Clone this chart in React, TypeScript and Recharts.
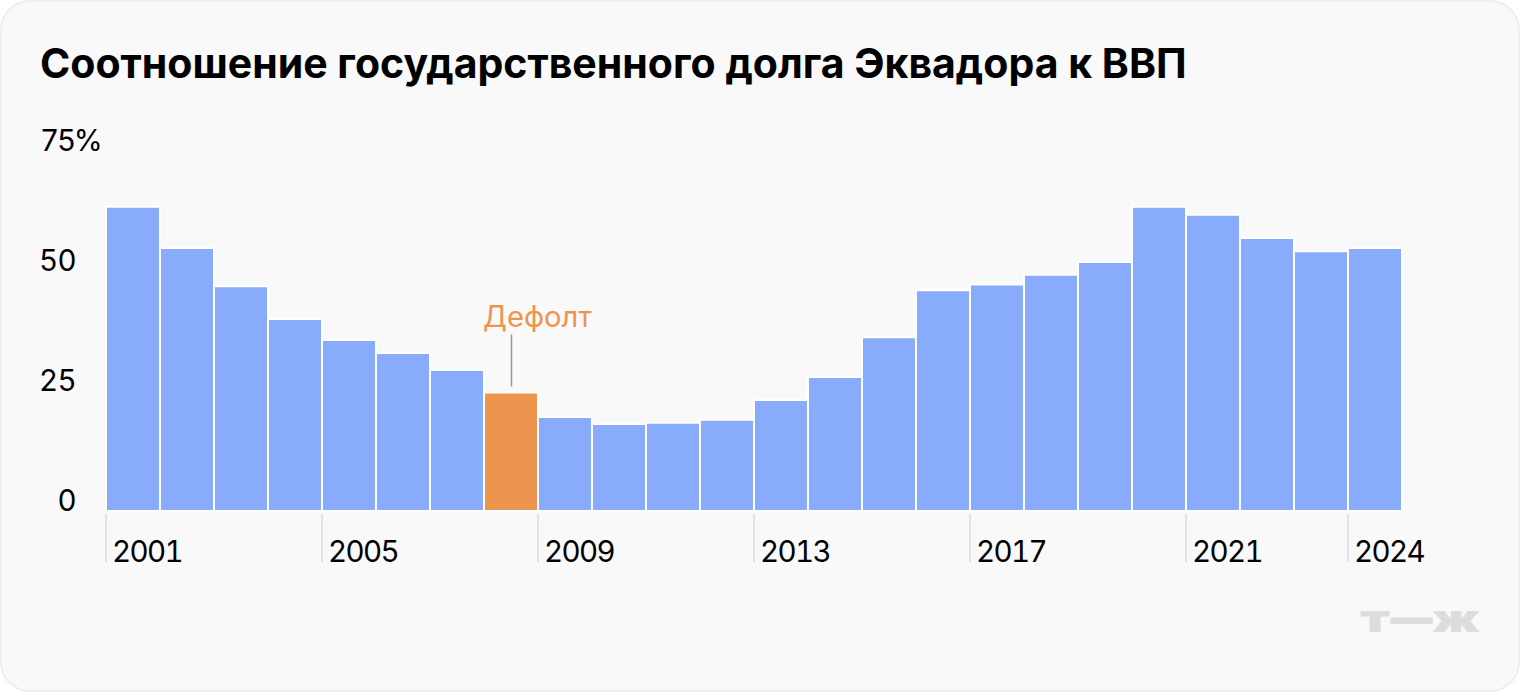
import { BarChart, Bar, Cell, XAxis, YAxis, LabelList } from 'recharts';

const years = ['2001', '2002', '2003', '2004', '2005', '2006', '2007', '2008', '2009', '2010', '2011', '2012', '2013', '2014', '2015', '2016', '2017', '2018', '2019', '2020', '2021', '2022', '2023', '2024'];
const debt = [63.4, 54.8, 46.8, 40, 35.6, 32.9, 29.4, 24.7, 19.6, 18.1, 18.4, 19, 23.1, 27.9, 36.2, 46, 47.2, 49.2, 51.9, 63.4, 61.7, 56.9, 54.1, 54.8];
const yearTicks = ['2001', '2005', '2009', '2013', '2017', '2021', '2024'];
const valueTicks = [0, 25, 50, 75];
const defaultYear = '2008';

const data = years.map((year, i) => ({ year, debt: debt[i] }));

const FONT = 'Inter, sans-serif';
const BLUE = '#89abfb';
const ORANGE = '#ed944f';
const LOGO = '#dddddd';

function YearTick({ x, y, payload }: any) {
  const left = x - 27;
  return (
    <g>
      <line x1={left} x2={left} y1={y - 5} y2={y + 43} stroke="#dcdcdc" strokeWidth={1.5} />
      <text
        x={left + 6}
        y={y + 43}
        fontSize={29.5}
        letterSpacing={-1.6}
        fontFamily={FONT}
        fill="#000"
        style={{ fontVariantNumeric: 'tabular-nums' }}
      >
        {payload.value}
      </text>
    </g>
  );
}

function ValueTick({ y, payload }: any) {
  const top = payload.value === 75;
  return (
    <text
      x={top ? 40 : 76}
      y={y}
      textAnchor={top ? 'start' : 'end'}
      fontSize={29.5}
      letterSpacing={top ? -2.2 : -0.6}
      fontFamily={FONT}
      fill="#000"
      style={{ fontVariantNumeric: 'tabular-nums' }}
    >
      {top ? '75%' : payload.value}
    </text>
  );
}

function DefaultLabel({ x, y, width, index }: any) {
  if (years[index] !== defaultYear) return null;
  const mid = x + width / 2 + 0.5;
  return (
    <g>
      <line x1={mid} x2={mid} y1={y - 58} y2={y - 6} stroke="#999999" strokeWidth={1.5} />
      <text x={x - 1} y={y - 65} fontSize={29.2} fontFamily={FONT} fill={ORANGE}>
        Дефолт
      </text>
    </g>
  );
}

export default function App() {
  return (
    <div style={{ position: 'absolute', left: 0, top: 0, width: 1520, height: 692, background: '#fff', overflow: 'hidden' }}>
      <div
        style={{
          position: 'absolute',
          left: 0,
          top: 0,
          width: 1520,
          height: 692,
          boxSizing: 'border-box',
          background: '#f9f9f9',
          border: '2px solid #eeeeee',
          borderRadius: 30
        }}
      />
      <div
        style={{
          position: 'absolute',
          left: 40,
          top: 38,
          fontFamily: FONT,
          fontWeight: 700,
          fontSize: 41,
          lineHeight: '50px',
          color: '#000',
          whiteSpace: 'nowrap'
        }}
      >
        Соотношение государственного долга Эквадора к ВВП
      </div>
      <div style={{ position: 'absolute', left: 0, top: 0 }}>
        <BarChart
          width={1520}
          height={692}
          data={data}
          barCategoryGap={0}
          margin={{ top: 151, right: 118, bottom: 121, left: 0 }}
        >
          <XAxis
            dataKey="year"
            ticks={yearTicks}
            interval={0}
            axisLine={false}
            tickLine={false}
            height={60}
            tick={<YearTick />}
          />
          <YAxis
            width={106}
            domain={[0, 75]}
            ticks={valueTicks}
            axisLine={false}
            tickLine={false}
            tick={<ValueTick />}
          />
          <Bar dataKey="debt" isAnimationActive={false} stroke="#ffffff" strokeWidth={2}>
            {data.map((d) => (
              <Cell key={d.year} fill={d.year === defaultYear ? ORANGE : BLUE} />
            ))}
            <LabelList dataKey="debt" content={<DefaultLabel />} />
          </Bar>
        </BarChart>
      </div>
      {/* логотип: буквы растянуты по ширине, тире утолщено обводкой */}
      <svg style={{ position: 'absolute', left: 0, top: 0 }} width={1520} height={692}>
        <g fontFamily={FONT} fontWeight={900} fontSize={38} fill={LOGO}>
          <text x={1360} y={632} textLength={30} lengthAdjust="spacingAndGlyphs">т</text>
          <text x={1391} y={632} textLength={41} lengthAdjust="spacingAndGlyphs" stroke={LOGO} strokeWidth={1}>—</text>
          <text x={1432} y={632} textLength={48} lengthAdjust="spacingAndGlyphs">ж</text>
        </g>
      </svg>
    </div>
  );
}
